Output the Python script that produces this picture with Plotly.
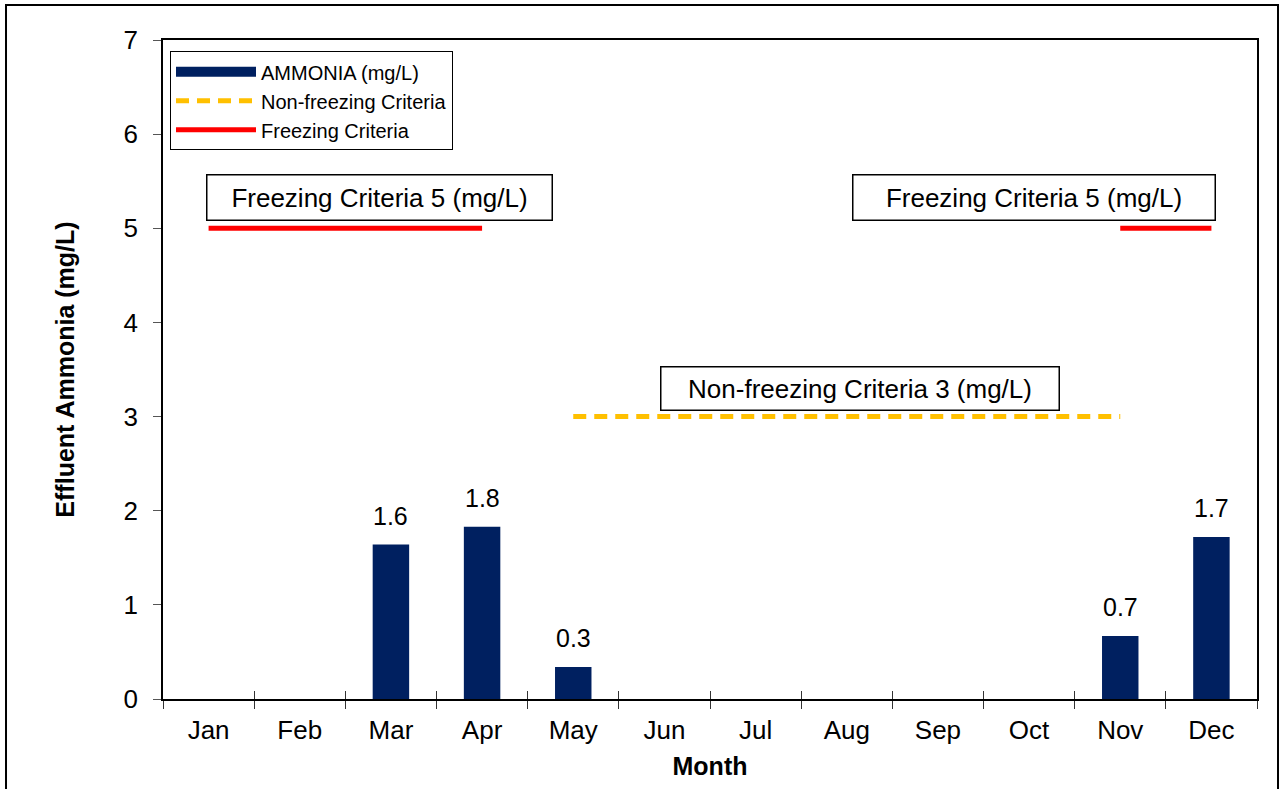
import plotly.graph_objects as go

months = ["Jan", "Feb", "Mar", "Apr", "May", "Jun", "Jul", "Aug", "Sep", "Oct", "Nov", "Dec"]
ammonia = [None, None, 1.64, 1.83, 0.34, None, None, None, None, None, 0.67, 1.72]
ammonia_labels = ["", "", "1.6", "1.8", "0.3", "", "", "", "", "", "0.7", "1.7"]
freezing = [5, 5, 5, 5, None, None, None, None, None, None, 5, 5]
nonfreezing = [None, None, None, None, 3, 3, 3, 3, 3, 3, 3, None]

NAVY = "#002060"
FONT = "Liberation Sans, Arial, sans-serif"

fig = go.Figure()
# bars on the overlaying axis x2 (same categories/range as x) to get crossing tick marks
fig.add_trace(go.Bar(x=months, y=ammonia, xaxis="x2", marker=dict(color=NAVY, line=dict(width=0)),
                     showlegend=False, name="AMMONIA (mg/L)"))
# legend-only entry
fig.add_trace(go.Scatter(x=[None], y=[None], mode="lines", name="AMMONIA (mg/L)",
                         line=dict(color=NAVY, width=10)))
fig.add_trace(go.Scatter(x=months, y=nonfreezing, mode="lines", name="Non-freezing Criteria",
                         line=dict(color="#FFC000", width=5, dash="13px,8px"), connectgaps=False))
fig.add_trace(go.Scatter(x=months, y=freezing, mode="lines", name="Freezing Criteria",
                         line=dict(color="#FF0000", width=5), connectgaps=False))

annotations = []
for m, v, t in zip(months, ammonia, ammonia_labels):
    if v is not None:
        annotations.append(dict(x=m, y=v, xref="x", yref="y", text=t, showarrow=False,
                                yanchor="bottom", yshift=13,
                                font=dict(size=25, color="black", family=FONT)))

box_style = dict(showarrow=False, bordercolor="black", borderwidth=1.5, bgcolor="white",
                 xref="x", yref="y", font=dict(size=26, color="black", family=FONT))
annotations.append(dict(x=1.87, y=5.33, text="Freezing Criteria 5 (mg/L)", borderpad=7,
                        width=330, **box_style))
annotations.append(dict(x=9.05, y=5.33, text="Freezing Criteria 5 (mg/L)", borderpad=7,
                        width=347, **box_style))
annotations.append(dict(x=7.15, y=3.30, text="Non-freezing Criteria 3 (mg/L)", borderpad=6,
                        width=385, **box_style))

fig.update_layout(
    width=1280, height=789,
    margin=dict(l=163, r=23, t=40, b=90, autoexpand=False),
    paper_bgcolor="white", plot_bgcolor="white",
    font=dict(family=FONT, color="black", size=24),
    bargap=0.6,
    annotations=annotations,
    legend=dict(x=0.0064, y=0.983, xanchor="left", yanchor="top",
                bgcolor="white", bordercolor="black", borderwidth=1,
                font=dict(size=20, family=FONT), traceorder="normal",
                tracegroupgap=0, itemwidth=80),
    shapes=[dict(type="rect", xref="paper", yref="paper", x0=-0.1435, x1=1.0192,
                 y0=-0.2, y1=1.0531, line=dict(color="black", width=2), layer="below")],
    xaxis=dict(type="category", title=dict(text="<b>Month</b>", font=dict(size=25, family=FONT), standoff=14),
               automargin=False, range=[-0.5, 11.5], categoryorder="array", categoryarray=months,
               showline=True, linecolor="black", linewidth=1.5, mirror=True,
               ticks="outside", ticklen=8, tickcolor="#333", tickson="boundaries",
               ticklabelstandoff=7,
               tickfont=dict(size=26, family=FONT), showgrid=False, zeroline=False),
    xaxis2=dict(type="category", overlaying="x", anchor="y", side="bottom", automargin=False,
                range=[-0.5, 11.5], categoryorder="array", categoryarray=months,
                showline=False, ticks="inside", ticklen=8, tickcolor="#333", tickson="boundaries",
                showticklabels=False, showgrid=False, zeroline=False),
    yaxis=dict(title=dict(text="<b>Effluent Ammonia (mg/L)</b>", font=dict(size=25, family=FONT),
                          standoff=42),
               automargin=False,
               range=[0, 7], dtick=1, showline=True, linecolor="black", linewidth=1.5, mirror=True,
               ticks="outside", ticklen=8, tickcolor="#555", ticklabelstandoff=10,
               tickfont=dict(size=26, family=FONT), showgrid=False, zeroline=False),
)

fig.write_html("out.html", config={"displayModeBar": False},
               post_script="document.body.style.margin='0';")
